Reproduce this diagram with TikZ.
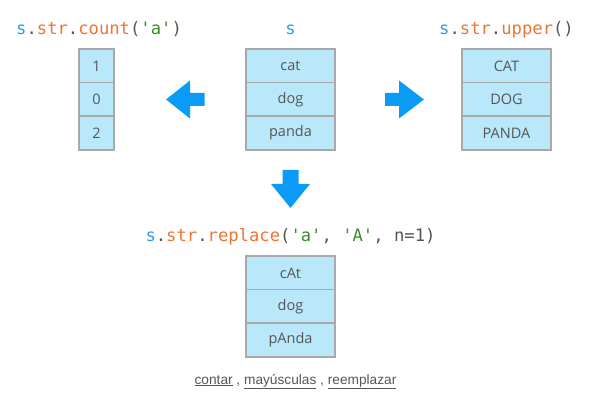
\documentclass[tikz,border=0pt]{standalone}
\usepackage{fontspec}
\setmainfont{Open Sans}
\newfontfamily\codefont{DejaVu Sans Mono}
\newfontfamily\footfont{Liberation Sans}
\definecolor{cellfill}{HTML}{B9E8FB}
\definecolor{cellline}{HTML}{A9A9A9}
\definecolor{celltext}{HTML}{555555}
\definecolor{arrowblue}{HTML}{0A9BF7}
\definecolor{codeblue}{HTML}{2A9EE6}
\definecolor{codeorange}{HTML}{EE7434}
\definecolor{codegreen}{HTML}{3C8A2E}
\definecolor{codegray}{HTML}{555555}
\newcommand{\cb}[1]{\textcolor{codeblue}{#1}}
\newcommand{\co}[1]{\textcolor{codeorange}{#1}}
\newcommand{\cgr}[1]{\textcolor{codegreen}{#1}}
\begin{document}
\begin{tikzpicture}[x=1pt,y=-1pt,
  cell/.style={draw=cellline, fill=cellfill, line width=1.2pt, inner sep=0pt,
    minimum height=34pt, text=celltext, font=\fontsize{14.5}{16}\selectfont},
  narrow/.style={cell, minimum width=35pt},
  wide/.style={cell, minimum width=89pt},
  code/.style={inner sep=0pt, text=codegray, font=\codefont\fontsize{17.2}{20}\selectfont},
  blockarrow/.style={fill=arrowblue},
  foot/.style={inner sep=0pt, text=celltext, font=\footfont\fontsize{13.7}{16}\selectfont}]
\useasboundingbox (0,0) rectangle (600,409);
% titles
\node[code, anchor=base west] (tcount) at (16,34.5) {\cb{s}.\co{str}.\co{count}(\cgr{'a'})};
\node[code, anchor=base] (ts) at (290.5,34.5) {\cb{s}};
\node[code, anchor=base west] (tupper) at (439,34.5) {\cb{s}.\co{str}.\co{upper}()};
\node[code, anchor=base] (treplace) at (290.5,241.7) {\cb{s}.\co{str}.\co{replace}(\cgr{'a'}, \cgr{'A'}, n=1)};
% count table
\node[narrow] (c1) at (96.5,66) {1};
\node[narrow] (c2) at (96.5,99.5) {0};
\node[narrow] (c3) at (96.5,133) {2};
% s table
\node[wide] (s1) at (290.5,66) {cat};
\node[wide] (s2) at (290.5,99.5) {dog};
\node[wide] (s3) at (290.5,133) {panda};
% upper table
\node[wide] (u1) at (506.5,66) {CAT};
\node[wide] (u2) at (506.5,99.5) {DOG};
\node[wide] (u3) at (506.5,133) {PANDA};
% replace table
\node[wide] (r1) at (290.5,273) {cAt};
\node[wide] (r2) at (290.5,306.5) {dog};
\node[wide] (r3) at (290.5,340) {pAnda};
% arrows
\fill[blockarrow] (166,99.5) -- (190,80.5) -- (190,93) -- (204.5,93) -- (204.5,106) -- (190,106) -- (190,118.5) -- cycle;
\fill[blockarrow] (424,99.5) -- (399,80.5) -- (399,93) -- (385,93) -- (385,106) -- (399,106) -- (399,118.5) -- cycle;
\fill[blockarrow] (290.5,208) -- (271,184) -- (282.5,184) -- (282.5,170) -- (298.5,170) -- (298.5,184) -- (310,184) -- cycle;
% footer
\node[foot, anchor=base] (links) at (295.5,384) {\underline{contar} , \underline{mayúsculas} , \underline{reemplazar}};
\end{tikzpicture}
\end{document}
